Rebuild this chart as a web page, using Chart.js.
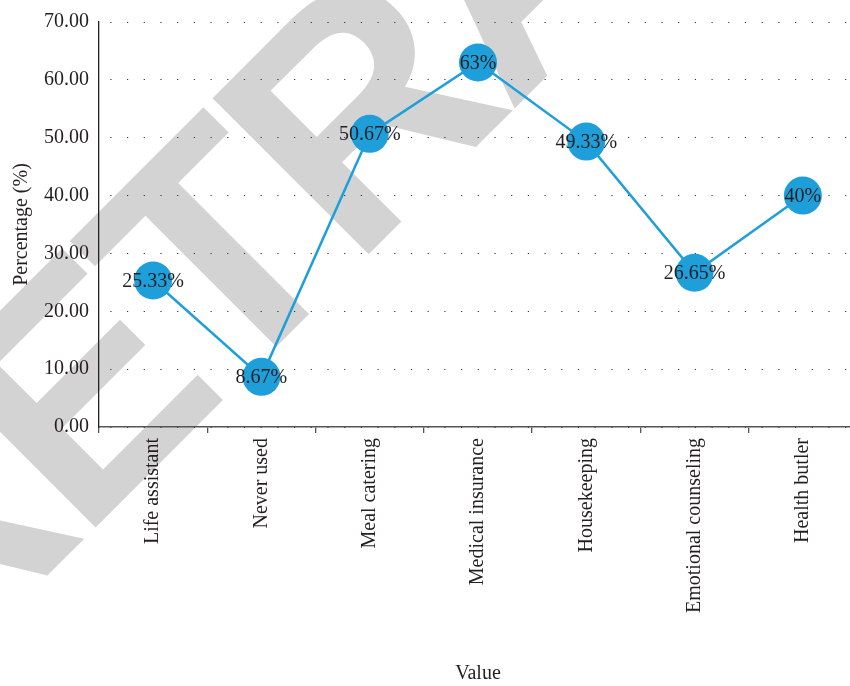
<!DOCTYPE html>
<html>
<head>
<meta charset="utf-8">
<script src="https://cdn.jsdelivr.net/npm/chart.js@4"></script>
<style>
  body { margin: 0; background: #fff; }
  #wrap { width: 850px; height: 686px; overflow: hidden; }
</style>
</head>
<body>
<div id="wrap"><canvas id="chart" width="858" height="686"></canvas></div>
<script>
const categories = ['Life assistant', 'Never used', 'Meal catering', 'Medical insurance', 'Housekeeping', 'Emotional counseling', 'Health butler'];
const values = [25.33, 8.67, 50.67, 63, 49.33, 26.65, 40];
const yTicks = [0, 10, 20, 30, 40, 50, 60, 70];

const blue = '#1f9fd9';
const ink = '#231f20';
const serif = '"Liberation Serif", "Times New Roman", serif';

// gray diagonal stamp behind the chart
const watermark = {
  id: 'watermark',
  beforeDraw(chart) {
    const ctx = chart.ctx;
    ctx.save();
    ctx.fillStyle = '#fff';
    ctx.fillRect(0, 0, chart.width, chart.height);
    ctx.translate(-75, 698);
    ctx.rotate(-Math.PI / 4);
    ctx.font = 'bold 321px "Liberation Sans", Arial, sans-serif';
    ctx.fillStyle = '#d3d3d3';
    ctx.textBaseline = 'alphabetic';
    let x = 0;
    for (const ch of 'RETRACTED') {
      ctx.fillText(ch, x, 0);
      x += ctx.measureText(ch).width - 12;
    }
    ctx.restore();
  }
};

// value labels on top of the points
const pointLabels = {
  id: 'pointLabels',
  afterDatasetsDraw(chart) {
    const ctx = chart.ctx;
    const meta = chart.getDatasetMeta(0);
    ctx.save();
    ctx.font = '20px ' + serif;
    ctx.fillStyle = ink;
    ctx.textAlign = 'center';
    ctx.textBaseline = 'middle';
    meta.data.forEach((pt, i) => {
      ctx.fillText(values[i] + '%', pt.x, pt.y + 1);
    });
    ctx.restore();
  }
};

const ctx = document.getElementById('chart').getContext('2d');
new Chart(ctx, {
  type: 'line',
  data: {
    labels: categories,
    datasets: [{
      data: values,
      borderColor: blue,
      borderWidth: 2.5,
      backgroundColor: blue,
      pointBackgroundColor: blue,
      pointBorderWidth: 0,
      pointRadius: 19,
      tension: 0,
      clip: false
    }]
  },
  options: {
    responsive: false,
    devicePixelRatio: 1,
    animation: false,
    layout: { autoPadding: false, padding: { top: 20, right: 1, bottom: 0, left: 0 } },
    plugins: {
      legend: { display: false },
      tooltip: { enabled: false }
    },
    scales: {
      x: {
        offset: true,
        grid: { drawOnChartArea: false, drawTicks: true, tickLength: 6, offset: true, color: '#555', lineWidth: 1.3 },
        border: { color: '#555', width: 1.5 },
        ticks: {
          minRotation: 90, maxRotation: 90, padding: 5, autoSkip: false,
          color: ink, font: { family: serif, size: 20 }
        },
        title: {
          display: true, text: 'Value', color: ink,
          font: { family: serif, size: 20 }, padding: { top: 0, bottom: 0 }
        },
        afterFit(scale) {
          scale.height = 259;
          scale.paddingLeft = 0;
          scale.paddingRight = 0;
        }
      },
      y: {
        min: 0,
        max: 70,
        afterBuildTicks(scale) { scale.ticks = yTicks.map(v => ({ value: v })); },
        grid: { drawTicks: false, color: '#333', lineWidth: 1 },
        border: { color: '#222', width: 1.3, dash: [1.2, 15.5], dashOffset: 5.7 },
        ticks: {
          padding: 10, color: ink, font: { family: serif, size: 20 },
          callback: v => Number(v).toFixed(2)
        },
        title: {
          display: true, text: 'Percentage (%)', color: ink,
          font: { family: serif, size: 20 }, padding: { top: 10, bottom: 0 }
        },
        afterFit(scale) { scale.width = 99; }
      }
    }
  },
  plugins: [watermark, pointLabels]
});
</script>
</body>
</html>
